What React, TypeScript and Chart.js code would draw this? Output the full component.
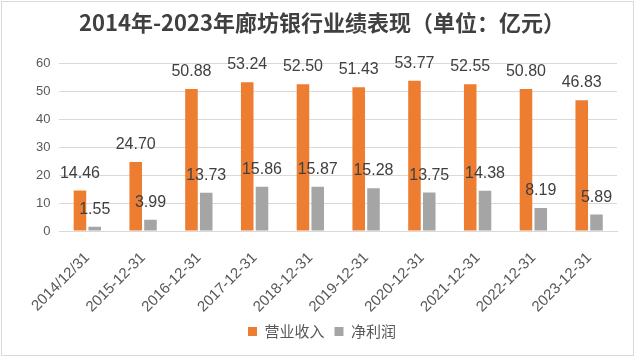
import React, { useEffect, useRef } from "react";
import { Chart, registerables } from "chart.js";

Chart.register(...registerables);

const titleText = "2014年-2023年廊坊银行业绩表现（单位：亿元）";
const categories = [
  "2014/12/31",
  "2015-12-31",
  "2016-12-31",
  "2017-12-31",
  "2018-12-31",
  "2019-12-31",
  "2020-12-31",
  "2021-12-31",
  "2022-12-31",
  "2023-12-31",
];
const seriesNames = ["营业收入", "净利润"];
const revenue = [14.46, 24.7, 50.88, 53.24, 52.5, 51.43, 53.77, 52.55, 50.8, 46.83];
const netProfit = [1.55, 3.99, 13.73, 15.86, 15.87, 15.28, 13.75, 14.38, 8.19, 5.89];
const yTicks = [0, 10, 20, 30, 40, 50, 60];

const NUM_FONT = "'Liberation Sans', Arial, sans-serif";
const CJK_FONT = "'Noto Sans CJK SC', 'Liberation Sans', sans-serif";

const labelPlugin = {
  id: "barLabels",
  afterDatasetsDraw(chart: any) {
    const ctx = chart.ctx;
    ctx.save();
    ctx.font = "16px " + NUM_FONT;
    ctx.fillStyle = "#404040";
    ctx.textAlign = "center";
    ctx.textBaseline = "alphabetic";
    chart.data.datasets.forEach((ds: any, i: number) => {
      const meta = chart.getDatasetMeta(i);
      meta.data.forEach((bar: any, j: number) => {
        ctx.fillText(Number(ds.data[j]).toFixed(2), bar.x, bar.y - 13);
      });
    });
    ctx.restore();
  },
};

export default function App() {
  const ref = useRef<HTMLCanvasElement | null>(null);

  useEffect(() => {
    document.body.style.margin = "0";
    if (!ref.current) return;
    const chart = new Chart(ref.current, {
      type: "bar",
      data: {
        labels: categories,
        datasets: [
          {
            label: seriesNames[0],
            data: revenue,
            backgroundColor: "#ED7D31",
            categoryPercentage: 0.53,
            barPercentage: 0.85,
          },
          {
            label: seriesNames[1],
            data: netProfit,
            backgroundColor: "#A5A5A5",
            categoryPercentage: 0.53,
            barPercentage: 0.85,
          },
        ],
      },
      options: {
        animation: false,
        responsive: false,
        maintainAspectRatio: false,
        layout: { padding: { left: 25, right: 16, top: 0, bottom: 6 } },
        plugins: {
          title: {
            display: true,
            text: titleText,
            color: "#404040",
            font: { family: CJK_FONT, size: 22, weight: "bold" },
            padding: { top: 7, bottom: 28 },
          },
          legend: {
            position: "bottom",
            labels: {
              boxWidth: 9,
              boxHeight: 9,
              color: "#595959",
              font: { family: CJK_FONT, size: 15 },
              padding: 10,
            },
          },
          tooltip: { enabled: false },
        },
        scales: {
          x: {
            grid: { display: false },
            border: { display: true, color: "#d9d9d9" },
            ticks: {
              color: "#595959",
              font: { family: NUM_FONT, size: 15 },
              maxRotation: 45,
              minRotation: 45,
              padding: 10,
            },
            afterFit: (axis: any) => {
              axis.height = 83;
            },
          },
          y: {
            min: 0,
            max: 60,
            afterBuildTicks: (axis: any) => {
              axis.ticks = yTicks.map((v) => ({ value: v }));
            },
            grid: { color: "#d9d9d9", drawTicks: false },
            border: { display: false },
            ticks: {
              color: "#595959",
              font: { family: NUM_FONT, size: 13 },
              padding: 9,
            },
          },
        },
      },
      plugins: [labelPlugin],
    });
    return () => chart.destroy();
  }, []);

  return (
    <div
      style={{
        position: "absolute",
        left: 1,
        top: 1,
        width: 633,
        height: 355,
        border: "1px solid #d9d9d9",
        boxSizing: "border-box",
        background: "#fff",
      }}
    >
      <canvas ref={ref} width={631} height={353} style={{ display: "block" }} />
    </div>
  );
}
